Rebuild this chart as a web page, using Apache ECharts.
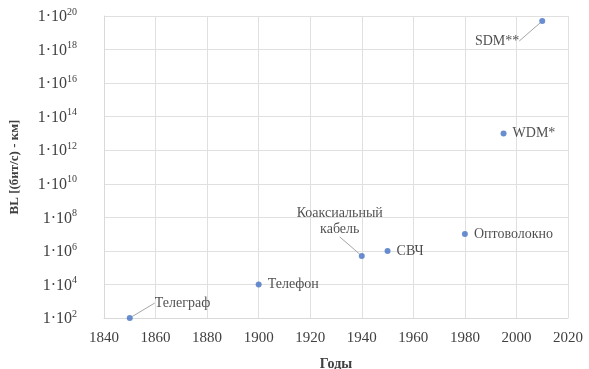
<!DOCTYPE html>
<html>
<head>
<meta charset="utf-8">
<script src="https://cdn.jsdelivr.net/npm/echarts@6/dist/echarts.min.js"></script>
<style>html,body{margin:0;padding:0;background:#fff;}#c{width:589px;height:369px;}</style>
</head>
<body>
<div id="c"></div>
<script>
const years = [1850, 1900, 1940, 1950, 1980, 1995, 2010];
const values = [1e2, 1e4, 5e5, 1e6, 1e7, 1e13, 5e19];
const names = ['Телеграф', 'Телефон', 'Коаксиальный\nкабель', 'СВЧ', 'Оптоволокно', 'WDM*', 'SDM**'];
const xTitle = 'Годы';
const yTitle = 'BL [(бит/с) - км]';

const labelCfg = [
  {pos: 'right', dx: 16, dy: -15, line: true},
  {pos: 'right', dx: 0, dy: 0, line: false},
  {pos: 'top', dx: -22, dy: -10, line: true},
  {pos: 'right', dx: 0, dy: 0, line: false},
  {pos: 'right', dx: 0, dy: 0, line: false},
  {pos: 'right', dx: 0, dy: 0, line: false},
  {pos: 'left', dx: -14, dy: 20, line: true}
];

const font = 'Liberation Serif';
const data = years.map((y, i) => ({
  value: [y, values[i]],
  name: names[i],
  label: {
    position: labelCfg[i].pos,
    align: labelCfg[i].pos === 'right' ? 'left' : (labelCfg[i].pos === 'left' ? 'right' : 'center')
  },
  labelLine: {show: labelCfg[i].line}
}));

const chart = echarts.init(document.getElementById('c'), null, {renderer: 'canvas'});
chart.setOption({
  animation: false,
  backgroundColor: '#fff',
  grid: {left: 104, right: 21, top: 16, bottom: 51, containLabel: false, outerBoundsMode: 'none'},
  xAxis: {
    type: 'value', min: 1840, max: 2020, interval: 20,
    name: xTitle, nameLocation: 'middle', nameGap: 39,
    nameTextStyle: {fontFamily: font, fontWeight: 'bold', fontSize: 14, color: '#404040'},
    axisLine: {show: true, lineStyle: {color: '#d9d9d9'}},
    axisTick: {show: false},
    axisLabel: {fontFamily: font, fontSize: 15, color: '#404040', margin: 13, formatter: v => String(v)},
    splitLine: {show: true, lineStyle: {color: '#e0e0e0'}}
  },
  yAxis: {
    type: 'log', logBase: 10, min: 1e2, max: 1e20, interval: 2,
    name: yTitle, nameLocation: 'middle', nameGap: 83, nameRotate: 90,
    nameTextStyle: {fontFamily: font, fontWeight: 'bold', fontSize: 13, color: '#404040'},
    axisLine: {show: true, lineStyle: {color: '#d9d9d9'}},
    axisTick: {show: false},
    axisLabel: {
      margin: 27,
      formatter: v => '{b|1·10}{s|' + Math.round(Math.log10(v)) + '}',
      rich: {
        b: {fontFamily: font, fontSize: 16, color: '#404040', lineHeight: 18, verticalAlign: 'bottom'},
        s: {fontFamily: font, fontSize: 10, color: '#404040', lineHeight: 18, verticalAlign: 'top'}
      }
    },
    splitLine: {show: true, lineStyle: {color: '#e0e0e0'}}
  },
  series: [{
    type: 'scatter',
    symbolSize: 6,
    itemStyle: {color: '#4472C4'},
    data: data,
    label: {
      show: true, formatter: '{b}', fontFamily: font, fontSize: 14, color: '#1f1f1f',
      distance: 6, lineHeight: 16
    },
    labelLine: {show: false, lineStyle: {color: '#a6a6a6', width: 1}, length2: 0},
    labelLayout: function (p) {
      const c = labelCfg[p.dataIndex];
      return {dx: c.dx, dy: c.dy};
    }
  }]
});
</script>
</body>
</html>
